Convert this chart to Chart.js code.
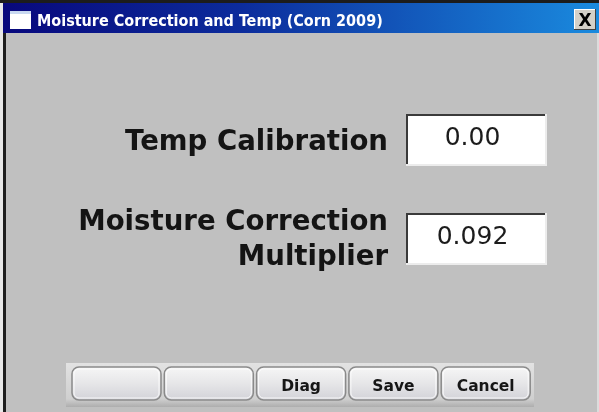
<!DOCTYPE html>
<html>
<head>
<meta charset="utf-8">
<script src="https://cdn.jsdelivr.net/npm/chart.js@4/dist/chart.umd.min.js"></script>
<style>
  html, body { margin: 0; padding: 0; background: #c0c0c0; }
  canvas { display: block; }
</style>
</head>
<body>
<canvas id="myChart" width="599" height="412"></canvas>
<script>
// datos del dialogo
const titulo = 'Moisture Correction and Temp (Corn 2009)';
const etiquetas = [['Temp Calibration'], ['Moisture Correction', 'Multiplier']];
const valores = [0.00, 0.092];
const decimales = [2, 3];
const botones = ['', '', 'Diag', 'Save', 'Cancel'];

const ctx = document.getElementById('myChart');

// dibuja la ventana (marco, campos y botones)
const ventana = {
    id: 'ventana',
    beforeDraw(chart) {
        const c = chart.ctx;
        const W = chart.width, H = chart.height;
        c.save();

        // fondo
        c.fillStyle = '#c0c0c0';
        c.fillRect(0, 0, W, H);

        // marco
        c.fillStyle = '#1c1c1c';
        c.fillRect(0, 0, W, 3);
        c.fillStyle = '#e8e8e8';
        c.fillRect(0, 3, 3, H);
        c.fillStyle = '#1e1e1e';
        c.fillRect(3, 3, 3, H);
        c.fillStyle = '#dcdcdc';
        c.fillRect(W - 2, 33, 2, H);

        // barra de titulo
        const g = c.createLinearGradient(3, 0, W, 0);
        g.addColorStop(0, '#08087c');
        g.addColorStop(0.4, '#0c2c9c');
        g.addColorStop(1, '#1a8ade');
        c.fillStyle = g;
        c.fillRect(3, 3, W - 3, 30);

        // icono
        c.fillStyle = '#ffffff';
        c.fillRect(10, 11, 21, 18);
        c.fillStyle = '#c8d8f0';
        c.fillRect(10, 11, 21, 3);

        // boton cerrar
        c.fillStyle = '#d4d0c8';
        c.fillRect(574, 9, 22, 21);
        c.fillStyle = '#ffffff';
        c.fillRect(574, 9, 22, 1);
        c.fillRect(574, 9, 1, 21);
        c.fillStyle = '#404040';
        c.fillRect(574, 29, 22, 1);
        c.fillRect(595, 9, 1, 21);
        c.fillStyle = '#000';
        c.font = 'bold 17px "DejaVu Sans"';
        c.textAlign = 'center';
        c.textBaseline = 'alphabetic';
        c.fillText('X', 585, 26);

        // etiquetas
        c.fillStyle = '#141414';
        c.font = 'bold 27.6px "DejaVu Sans"';
        c.textAlign = 'right';
        const baseEtiq = [[150], [230, 265]];
        etiquetas.forEach((lineas, i) => {
            lineas.forEach((t, j) => c.fillText(t, 388, baseEtiq[i][j]));
        });

        // campos
        const topCampo = [114, 213];
        valores.forEach((v, i) => {
            const x = 406, y = topCampo[i], w = 139, h = 50;
            c.fillStyle = '#ffffff';
            c.fillRect(x, y, w, h);
            c.fillStyle = '#3a3a3a';
            c.fillRect(x, y, w, 2);
            c.fillRect(x, y, 2, h);
            c.fillStyle = '#ececec';
            c.fillRect(x, y + h, w + 1, 2);
            c.fillRect(x + w, y, 2, h + 2);
            c.fillStyle = '#1c1c1c';
            c.font = '25px "DejaVu Sans"';
            c.textAlign = 'center';
            c.fillText(v.toFixed(decimales[i]), x + w / 2 - 3, y + 31);
        });

        // panel de botones
        const pg = c.createLinearGradient(0, 363, 0, 408);
        pg.addColorStop(0, '#e2e2e2');
        pg.addColorStop(0.8, '#cfcfcf');
        pg.addColorStop(1, '#a9a9a9');
        c.fillStyle = pg;
        c.fillRect(66, 363, 468, 44);

        botones.forEach((t, i) => {
            const x = 72 + i * 92.3, y = 367, w = 89, h = 33;
            const bg = c.createLinearGradient(0, y, 0, y + h);
            bg.addColorStop(0, '#f6f6f6');
            bg.addColorStop(0.5, '#e6e6e8');
            bg.addColorStop(1, '#d2d2d8');
            c.beginPath();
            c.roundRect(x, y, w, h, 7);
            c.fillStyle = bg;
            c.fill();
            c.lineWidth = 1.5;
            c.strokeStyle = '#8a8a8a';
            c.stroke();
            c.beginPath();
            c.roundRect(x + 2, y + 2, w - 4, h - 4, 5);
            c.lineWidth = 1;
            c.strokeStyle = 'rgba(255,255,255,0.8)';
            c.stroke();
            if (t) {
                c.fillStyle = '#161616';
                c.font = 'bold 15.5px "DejaVu Sans"';
                c.textAlign = 'center';
                c.fillText(t, x + w / 2, 391);
            }
        });

        c.restore();
    }
};

const myChart = new Chart(ctx, {
    type: 'bar',
    data: {
        labels: [],
        datasets: []
    },
    options: {
        responsive: false,
        animation: false,
        devicePixelRatio: 1,
        layout: {
            padding: { left: 37, top: 0 }
        },
        scales: {
            x: { display: false },
            y: { display: false }
        },
        plugins: {
            legend: { display: false },
            tooltip: { enabled: false },
            title: {
                display: true,
                text: titulo,
                align: 'start',
                color: '#ffffff',
                font: { family: '"Liberation Sans Narrow", "DejaVu Sans Condensed", sans-serif', size: 16, weight: 'bold', lineHeight: 1.2 },
                padding: { top: 12, bottom: 0 }
            }
        }
    },
    plugins: [ventana]
});
</script>
</body>
</html>
